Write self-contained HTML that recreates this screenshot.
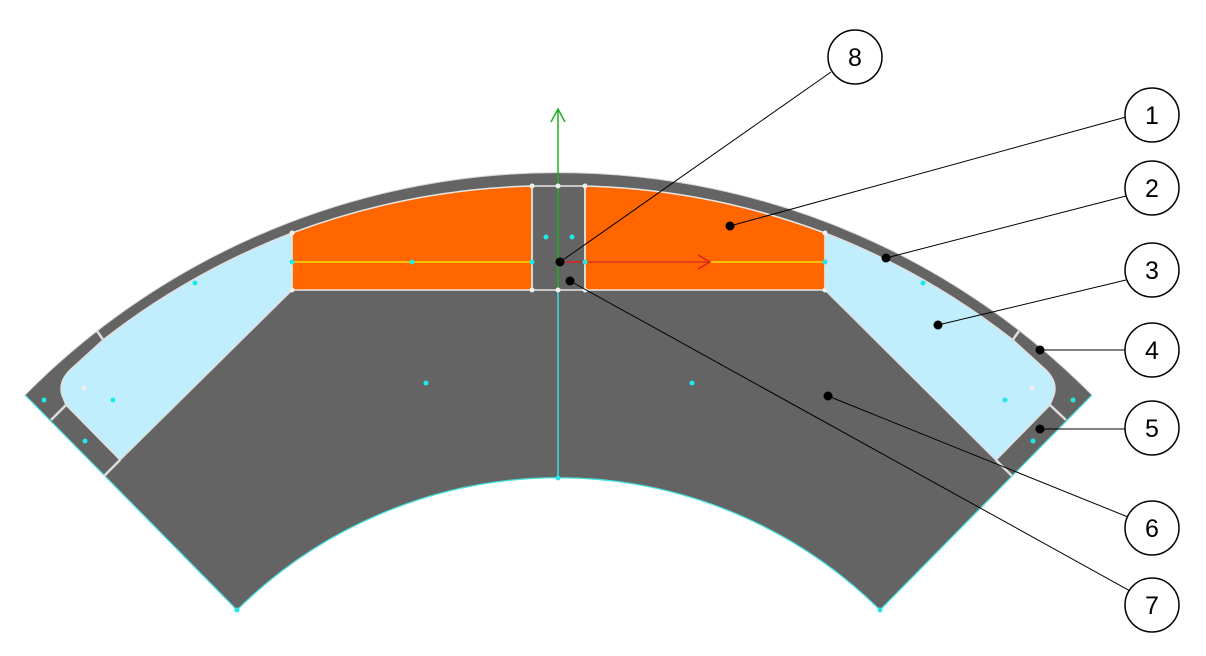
<!DOCTYPE html>
<html><head><meta charset="utf-8"><style>
html,body{margin:0;padding:0;background:#fff;}
svg{display:block;}
text{font-family:"Liberation Sans",sans-serif;font-size:25px;}
</style></head><body>
<svg width="1206" height="656" viewBox="0 0 1206 656" xmlns="http://www.w3.org/2000/svg">
<!-- main sector -->
<path d="M25,395 A751,751 0 0 1 1092,395 L880,610 A457,457 0 0 0 237,610 Z" fill="#646464" stroke="#d8d8d8" stroke-width="1"/>
<path d="M25,395 L237,610 A457,457 0 0 1 880,610 L1092,395" fill="none" stroke="#3fe0e0" stroke-width="1.2"/>
<!-- orange -->
<path d="M292,233 A738,738 0 0 1 532,186 L532,290 L292,290 Z" fill="#ff6600" stroke="#e8e8e8" stroke-width="1.5"/>
<path d="M585,186 A738,738 0 0 1 825,233 L825,290 L585,290 Z" fill="#ff6600" stroke="#e8e8e8" stroke-width="1.5"/>
<rect x="532" y="186" width="53" height="104" fill="none" stroke="#e8e8e8" stroke-width="1.5"/>
<!-- light blue -->
<path d="M292,233 A738,738 0 0 0 103,340 L70,370 Q58,382 62,395 L66,405 L120,460 L292,290 Z" fill="#c0eefc" stroke="#e0e0e0" stroke-width="1.5"/>
<path d="M825,233 A738,738 0 0 1 1013,340 L1046,370 Q1058,382 1054,395 L1050,405 L996,460 L825,290 Z" fill="#c0eefc" stroke="#e0e0e0" stroke-width="1.5"/>
<!-- separation lines -->
<g stroke="#dcdcdc" stroke-width="2.5">
<line x1="97" y1="331" x2="104" y2="341"/>
<line x1="66" y1="405" x2="51" y2="420"/>
<line x1="120" y1="460" x2="104" y2="476"/>
<line x1="1019" y1="331" x2="1012" y2="341"/>
<line x1="1050" y1="405" x2="1066" y2="420"/>
<line x1="996" y1="460" x2="1012" y2="476"/>
</g>
<!-- axes -->
<line x1="292" y1="262" x2="532" y2="262" stroke="#f0e000" stroke-width="1.5"/>
<line x1="585" y1="262" x2="825" y2="262" stroke="#f0e000" stroke-width="1.5"/>
<line x1="558" y1="262" x2="710" y2="262" stroke="#e02020" stroke-width="1.5"/>
<path d="M698,255 L710,262 L698,269" fill="none" stroke="#e02020" stroke-width="1.5"/>
<line x1="558" y1="290" x2="558" y2="478" stroke="#30e0e0" stroke-width="1.5"/>
<line x1="558" y1="290" x2="558" y2="110" stroke="#20b020" stroke-width="1.5"/>
<path d="M551,122 L558,109 L565,122" fill="none" stroke="#20b020" stroke-width="1.5"/>
<!-- white vertex dots -->
<g fill="#f0f0f0">
<circle cx="292" cy="233" r="2.5"/><circle cx="292" cy="290" r="2.5"/>
<circle cx="532" cy="186" r="2.5"/><circle cx="532" cy="290" r="2.5"/>
<circle cx="585" cy="186" r="2.5"/><circle cx="585" cy="290" r="2.5"/>
<circle cx="558" cy="186" r="2.5"/><circle cx="558" cy="290" r="2.5"/>
<circle cx="825" cy="233" r="2.5"/><circle cx="825" cy="290" r="2.5"/>
<circle cx="84" cy="388" r="2.5"/><circle cx="1032" cy="388" r="2.5"/>
</g>
<!-- cyan dots -->
<g fill="#20e8e8">
<circle cx="292" cy="262" r="2.5"/><circle cx="412" cy="262" r="2.5"/>
<circle cx="532" cy="262" r="2.5"/><circle cx="585" cy="262" r="2.5"/>
<circle cx="825" cy="262" r="2.5"/>
<circle cx="546" cy="237" r="2.5"/><circle cx="572" cy="237" r="2.5"/>
<circle cx="195" cy="283" r="2.5"/><circle cx="923" cy="283" r="2.5"/>
<circle cx="426" cy="383" r="2.5"/><circle cx="692" cy="383" r="2.5"/>
<circle cx="113" cy="400" r="2.5"/><circle cx="1005" cy="400" r="2.5"/>
<circle cx="44" cy="400" r="2.5"/><circle cx="1073" cy="400" r="2.5"/>
<circle cx="85" cy="441" r="2.5"/><circle cx="1033" cy="441" r="2.5"/>
<circle cx="558" cy="478" r="2.5"/><circle cx="237" cy="610" r="2.5"/><circle cx="880" cy="610" r="2.5"/>
</g>
<!-- leader lines -->
<g stroke="#000" stroke-width="1">
<line x1="560" y1="262" x2="831" y2="72"/>
<line x1="730" y1="226" x2="1126" y2="117"/>
<line x1="886" y1="258" x2="1126" y2="196"/>
<line x1="938" y1="325" x2="1126" y2="280"/>
<line x1="1040" y1="350" x2="1125" y2="350"/>
<line x1="1040" y1="429" x2="1125" y2="429"/>
<line x1="828" y1="396" x2="1128" y2="517"/>
<line x1="570" y1="281" x2="1132" y2="592"/>
</g>
<g fill="#000">
<circle cx="560" cy="262" r="4.5"/><circle cx="570" cy="281" r="4.5"/>
<circle cx="730" cy="226" r="4.5"/><circle cx="886" cy="258" r="4.5"/>
<circle cx="938" cy="325" r="4.5"/><circle cx="1040" cy="350" r="4.5"/>
<circle cx="1040" cy="429" r="4.5"/><circle cx="828" cy="396" r="4.5"/>
</g>
<!-- callout circles -->
<g fill="#fff" stroke="#000" stroke-width="1.5">
<circle cx="855" cy="57" r="27"/>
<circle cx="1152" cy="115" r="27"/>
<circle cx="1152" cy="188" r="27"/>
<circle cx="1152" cy="270" r="27"/>
<circle cx="1152" cy="350" r="27"/>
<circle cx="1152" cy="428" r="27"/>
<circle cx="1152" cy="528" r="27"/>
<circle cx="1152" cy="605" r="27"/>
</g>
<g text-anchor="middle" fill="#000">
<text x="855" y="66">8</text>
<text x="1152" y="124">1</text>
<text x="1152" y="197">2</text>
<text x="1152" y="279">3</text>
<text x="1152" y="359">4</text>
<text x="1152" y="437">5</text>
<text x="1152" y="537">6</text>
<text x="1152" y="614">7</text>
</g>
</svg>
</body></html>
